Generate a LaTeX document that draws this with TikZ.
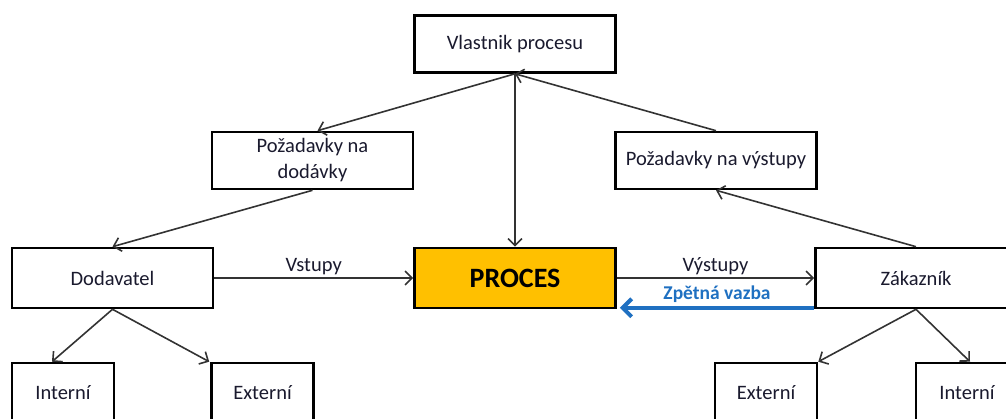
\documentclass[tikz,border=0pt]{standalone}
\usepackage{fontspec}
\setmainfont{Carlito}
\usetikzlibrary{arrows.meta,calc}
\definecolor{procfill}{HTML}{FFC000}
\definecolor{fbblue}{HTML}{1F70C1}
\definecolor{txt}{HTML}{1A1A2E}
\begin{document}
\begin{tikzpicture}[x=1pt,y=-1pt,
  box/.style={draw=black,line width=2.6pt,fill=white,minimum width=201pt,minimum height=57pt,
    inner sep=0pt,align=center,font=\fontsize{20.5}{26}\selectfont,text=txt},
  smallbox/.style={box,minimum width=102pt,minimum height=60pt},
  conn/.style={draw=black!80,line width=1.6pt,-{Straight Barb[length=7pt,width=14pt,line width=1.6pt]}},
  lbl/.style={font=\fontsize{20.5}{24}\selectfont,text=txt,inner sep=1pt}]
\useasboundingbox (0,0) rectangle (1006,419);
\clip (0,0) rectangle (1006,419);
% boxes
\node[box] (vl) at (515,44) {Vlastnik procesu};
\node[box] (pd) at (312.5,160.5) {Požadavky na\\dodávky};
\node[box] (pv) at (716,160.5) {Požadavky na výstupy};
\node[box,minimum height=60pt] (dod) at (112.5,278) {Dodavatel};
\node[box,minimum height=60pt,fill=procfill,text=black,font=\fontsize{28}{30}\selectfont\bfseries] (pr) at (515,278) {PROCES};
\node[box,minimum height=60pt] (zak) at (916,278) {Zákazník};
\node[smallbox] (i1) at (63,393) {Interní};
\node[smallbox] (e1) at (262.5,393) {Externí};
\node[smallbox] (e2) at (766,393) {Externí};
\node[smallbox] (i2) at (967,393) {Interní};
% connectors
\draw[conn] (vl.south) -- ($(pd.north)+(5,0)$);
\draw[conn] (pv.north) -- (vl.south);
\draw[conn] (vl.south) -- (pr.north);
\draw[conn] (pd.south) -- (dod.north);
\draw[conn] (zak.north) -- (pv.south);
\draw[conn] (dod.east) -- node[lbl,above=1pt] {Vstupy} (pr.west);
\draw[conn] (pr.east) -- node[lbl,above=1pt] {Výstupy} (zak.west);
\draw[fbblue,line width=4pt,-{Straight Barb[length=9pt,width=18pt,line width=4pt]}]
  ($(zak.south west)+(0,-1.5)$) -- node[above=0pt,font=\fontsize{19.5}{22}\selectfont\bfseries,text=fbblue] {Zpětná vazba} ($(pr.south east)+(3,-1.5)$);
\draw[conn] (dod.south) -- ($(i1.north)+(-11,0)$);
\draw[conn] (dod.south) -- ($(e1.north west)+(-1,0)$);
\draw[conn] (zak.south) -- ($(e2.north east)+(0,0)$);
\draw[conn] (zak.south) -- ($(i2.north)+(3,0)$);
\end{tikzpicture}
\end{document}
